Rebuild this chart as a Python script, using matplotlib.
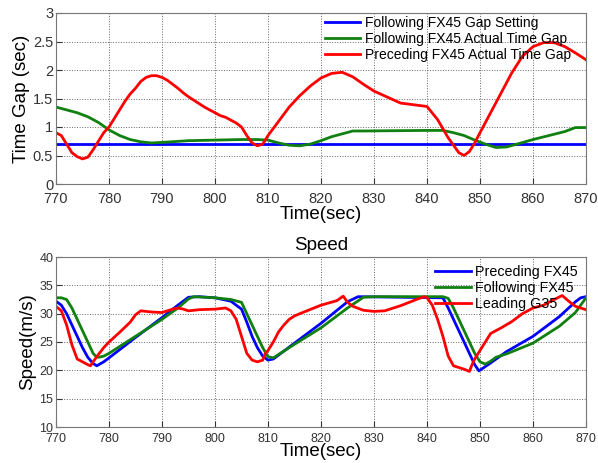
import numpy as np
import matplotlib
matplotlib.use('Agg')
import matplotlib.pyplot as plt
from matplotlib.ticker import FormatStrFormatter

plt.rcParams['font.family'] = ['Liberation Sans', 'DejaVu Sans']

# time gap panel
gap_setting = 0.7
t_gap_follow = [770, 772, 774, 776, 778, 780, 782, 784, 786, 788, 790, 795, 800, 805, 808,
                810, 812, 814, 816, 818, 820, 822, 824, 826, 828, 840, 843, 845, 847, 849,
                851, 853, 855, 857, 860, 863, 866, 868, 870]
gap_follow = [1.35, 1.3, 1.25, 1.18, 1.08, 0.95, 0.85, 0.78, 0.74, 0.72, 0.73, 0.76, 0.77, 0.78, 0.78,
              0.77, 0.72, 0.68, 0.67, 0.7, 0.76, 0.83, 0.88, 0.93, 0.93, 0.94, 0.94, 0.9, 0.85, 0.77,
              0.7, 0.64, 0.65, 0.7, 0.78, 0.85, 0.92, 0.99, 0.99]
t_gap_prec = [770, 771, 772, 773, 774, 775, 776, 777, 778, 779, 780, 781, 782, 783, 784, 785, 786,
              787, 788, 789, 790, 791, 792, 793, 794, 795, 796, 797, 798, 799, 800, 801, 802, 803,
              804, 805, 806, 807, 808, 809, 810, 812, 814, 816, 818, 820, 822, 824, 826, 828, 830,
              835, 840, 842, 844, 846, 847, 848, 849, 850, 852, 854, 856, 858, 860, 862, 864, 866,
              868, 870]
gap_prec = [0.9, 0.85, 0.7, 0.55, 0.48, 0.44, 0.47, 0.6, 0.75, 0.9, 1.0, 1.15, 1.3, 1.45, 1.58, 1.68, 1.8,
            1.87, 1.9, 1.9, 1.87, 1.82, 1.75, 1.68, 1.6, 1.53, 1.47, 1.41, 1.35, 1.3, 1.25, 1.2, 1.17, 1.12,
            1.07, 1.0, 0.85, 0.72, 0.67, 0.7, 0.85, 1.1, 1.35, 1.55, 1.72, 1.86, 1.94, 1.96, 1.88, 1.75, 1.63,
            1.42, 1.36, 1.13, 0.81, 0.55, 0.5, 0.57, 0.72, 0.9, 1.25, 1.6, 1.95, 2.24, 2.41, 2.48, 2.48, 2.41,
            2.3, 2.18]

# speed panel
t_prec = [770, 771, 772, 773, 774, 775, 776, 777, 777.7, 779, 780, 785, 790, 793, 795, 797, 800,
          803, 804, 805, 806, 807, 808, 809, 810, 811, 820, 825, 827, 843, 844, 845, 846, 847,
          848, 849, 849.8, 852, 855, 860, 865, 868, 869, 870]
v_prec = [32.2, 31.5, 30.0, 28.0, 26.0, 24.0, 22.3, 21.2, 20.8, 21.5, 22.2, 25.8, 29.3, 31.5, 32.9, 33.0, 32.8,
          32.2, 31.5, 30.8, 28.5, 26.0, 24.0, 22.5, 21.8, 22.0, 28.3, 32.1, 33.0, 32.8, 31.0, 29.0, 27.0, 25.0,
          23.0, 21.0, 19.9, 21.3, 23.3, 26.0, 29.5, 32.1, 32.8, 33.0]
t_follow = [770, 771, 772, 773, 774, 775, 776, 777, 777.5, 778, 779, 780, 785, 790, 793, 795, 796,
            800, 803, 805, 806, 807, 808, 809, 810, 811, 812, 815, 820, 825, 828, 830, 843, 844,
            845, 846, 847, 848, 849, 850, 851, 852, 853, 855, 860, 865, 868, 870]
v_follow = [32.8, 32.8, 32.5, 31.0, 29.0, 27.0, 25.0, 23.0, 22.5, 22.3, 22.5, 23.0, 26.0, 29.0, 31.0, 32.6, 33.0,
            32.8, 32.5, 32.0, 30.0, 28.0, 26.0, 24.0, 22.4, 22.2, 22.8, 24.6, 27.5, 31.0, 32.9, 33.0, 33.0, 32.7,
            31.0, 29.0, 27.0, 25.0, 23.0, 21.5, 21.1, 21.6, 22.3, 22.9, 24.8, 27.8, 30.2, 32.8]
t_lead = [770, 771, 772, 773, 774, 775, 776, 776.5, 777, 778, 779, 780, 782, 784, 785, 786, 788,
          790, 792, 793, 794, 795, 797, 800, 802, 803, 804, 805, 806, 807, 808, 809, 809.5, 810,
          811, 812, 813, 814, 815, 816, 820, 823, 824.2, 825, 826, 828, 830, 832, 835, 838, 839.5,
          840, 841, 842, 843, 844, 845, 846, 847, 848, 848.5, 849, 850, 851, 852, 854, 856, 858,
          860, 862, 864, 865.5, 867, 868, 870]
v_lead = [31.3, 30.5, 28.0, 24.5, 22.0, 21.5, 21.0, 20.8, 21.5, 22.8, 24.0, 25.0, 26.7, 28.5, 29.8, 30.5, 30.3,
          30.2, 30.8, 31.0, 30.8, 30.5, 30.7, 30.8, 31.0, 30.5, 29.0, 26.0, 23.0, 21.8, 21.5, 21.8, 23.0, 23.5,
          25.0, 26.8, 28.0, 29.0, 29.6, 30.0, 31.5, 32.3, 33.1, 32.0, 31.3, 30.6, 30.4, 30.5, 31.4, 32.5, 33.0,
          32.8, 31.5, 29.0, 26.0, 22.5, 20.8, 20.5, 20.2, 19.8, 21.0, 22.0, 23.5, 25.0, 26.5, 27.5, 28.6, 30.0,
          31.0, 31.5, 32.5, 33.2, 32.0, 31.3, 30.7]

W, H = 598, 463
fig = plt.figure(figsize=(W / 100, H / 100), dpi=100)
ax1 = fig.add_axes([56 / W, (H - 184) / H, 530 / W, 171 / H])
ax2 = fig.add_axes([56 / W, (H - 427) / H, 530 / W, 170 / H])

lw = 2.0
ax1.plot([770, 870], [gap_setting, gap_setting], color='#0000ff', lw=lw, label='Following FX45 Gap Setting')
ax1.plot(t_gap_follow, gap_follow, color='#108010', lw=lw, label='Following FX45 Actual Time Gap')
ax1.plot(t_gap_prec, gap_prec, color='#ff0000', lw=lw, label='Preceding FX45 Actual Time Gap')
ax1.set_ylim(0, 3)
ax1.set_yticks(np.arange(0, 3.01, 0.5))
ax1.set_ylabel('Time Gap (sec)', fontsize=13.5, labelpad=2)
ax1.set_xlabel('Time(sec)', fontsize=13.5, labelpad=0)
ax1.legend(loc='upper left', bbox_to_anchor=(0.508, 0.985), frameon=False, fontsize=10,
           handlelength=2.5, handletextpad=0.35, labelspacing=0.15, borderpad=0, borderaxespad=0)

ax2.plot(t_prec, v_prec, color='#0000ff', lw=lw, label='Preceding FX45')
ax2.plot(t_follow, v_follow, color='#108010', lw=lw, label='Following FX45')
ax2.plot(t_lead, v_lead, color='#ff0000', lw=lw, label='Leading G35')
ax2.set_ylim(10, 40)
ax2.set_yticks(np.arange(10, 41, 5))
ax2.set_ylabel('Speed(m/s)', fontsize=13.5, labelpad=2)
ax2.set_xlabel('Time(sec)', fontsize=13.5, labelpad=-1)
ax2.set_title('Speed', fontsize=13.5, pad=5)
ax2.legend(loc='upper left', bbox_to_anchor=(0.715, 0.955), frameon=False, fontsize=10.3,
           handlelength=2.5, handletextpad=0.3, labelspacing=0.15, borderpad=0, borderaxespad=0)

for ax, fs, xpad in ((ax1, 10.5, 6), (ax2, 9, 4)):
    ax.set_xlim(770, 870)
    ax.set_xticks(np.arange(770, 871, 10))
    ax.yaxis.set_major_formatter(FormatStrFormatter('%g'))
    ax.grid(True, linestyle=':', color='#666666', lw=0.7)
    ax.tick_params(direction='in', length=4, labelsize=fs, colors='#333333', pad=2)
    ax.tick_params(axis='x', pad=xpad)
    for s in ax.spines.values():
        s.set_color('#777777')

fig.savefig('out.png', dpi=100)
